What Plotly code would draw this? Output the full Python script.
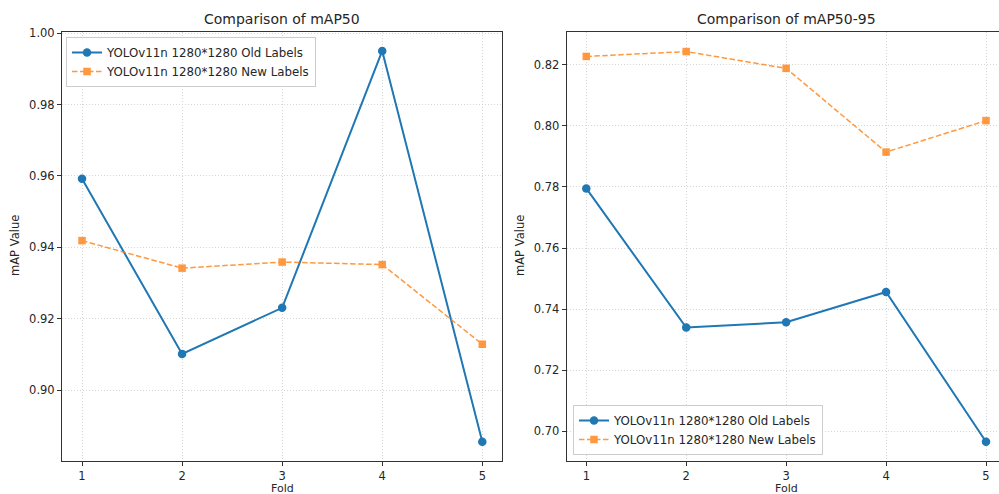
import plotly.graph_objects as go

folds = [1, 2, 3, 4, 5]
map50_old = [0.9592, 0.9102, 0.9231, 0.9950, 0.8856]
map50_new = [0.9419, 0.9342, 0.9359, 0.9352, 0.9129]
map5095_old = [0.7795, 0.7340, 0.7357, 0.7456, 0.6966]
map5095_new = [0.8227, 0.8243, 0.8188, 0.7914, 0.8017]
label_old = "YOLOv11n 1280*1280 Old Labels"
label_new = "YOLOv11n 1280*1280 New Labels"
titles = ["Comparison of mAP50", "Comparison of mAP50-95"]

W, H = 999, 494
BLUE = "#1f77b4"
ORANGE = "#ff7f0e"
FONT = "DejaVu Sans"
TXT = "#262626"

fig = go.Figure()

def add_pair(old, new, xa, ya, leg):
    fig.add_trace(go.Scatter(
        x=folds, y=old, name=label_old, mode="lines+markers",
        line=dict(color=BLUE, width=2),
        marker=dict(symbol="circle", size=8.5, color=BLUE),
        xaxis=xa, yaxis=ya, legend=leg))
    fig.add_trace(go.Scatter(
        x=folds, y=new, name=label_new, mode="lines+markers",
        line=dict(color=ORANGE, width=1.5, dash="5.5px,2.5px"),
        marker=dict(symbol="square", size=7.5, color=ORANGE),
        opacity=0.8,
        xaxis=xa, yaxis=ya, legend=leg))

add_pair(map50_old, map50_new, "x", "y", "legend")
add_pair(map5095_old, map5095_new, "x2", "y2", "legend2")

ytop, ybot = 32.0, 460.7
ydom = [1 - ybot / H, 1 - ytop / H]

axis_common = dict(
    showline=True, linecolor="#333333", linewidth=1,
    ticks="outside", ticklen=4, tickcolor="#333333", tickwidth=1,
    showgrid=True, gridcolor="#d6d6d6", griddash="1px,2px", gridwidth=0.8,
    zeroline=False, tickfont=dict(family=FONT, size=11.5, color=TXT),
)

fig.update_layout(
    width=W, height=H,
    margin=dict(l=0, r=0, t=0, b=0),
    template="none",
    paper_bgcolor="white", plot_bgcolor="white",
    font=dict(family=FONT, color=TXT),
    showlegend=True,
    xaxis=dict(domain=[62 / W, 502.3 / W], range=[0.8, 5.2], tickvals=folds,
               mirror=True, anchor="y", **axis_common),
    yaxis=dict(domain=ydom, range=[0.8803, 1.0003],
               tickvals=[0.90, 0.92, 0.94, 0.96, 0.98, 1.00], tickformat=".2f",
               mirror=True, anchor="x", **axis_common),
    xaxis2=dict(domain=[566.7 / W, 1.0], range=[0.804, 5.13], tickvals=folds,
                mirror=True, anchor="y2", **axis_common),
    yaxis2=dict(domain=ydom, range=[0.6904, 0.8307],
                tickvals=[0.70, 0.72, 0.74, 0.76, 0.78, 0.80, 0.82], tickformat=".2f",
                mirror=False, anchor="x2", **axis_common),
    legend=dict(x=66 / W, y=1 - 37 / H, xanchor="left", yanchor="top",
                bgcolor="rgba(255,255,255,0.85)", bordercolor="#cccccc", borderwidth=1,
                font=dict(family=FONT, size=11.8, color=TXT), tracegroupgap=0,
                itemwidth=30),
    legend2=dict(x=573 / W, y=1 - 455 / H, xanchor="left", yanchor="bottom",
                 bgcolor="rgba(255,255,255,0.85)", bordercolor="#cccccc", borderwidth=1,
                 font=dict(family=FONT, size=11.8, color=TXT), tracegroupgap=0,
                 itemwidth=30),
)

annos = [
    dict(text=titles[0], x=282 / W, y=1 - 19 / H, size=14),
    dict(text=titles[1], x=786 / W, y=1 - 19 / H, size=14),
    dict(text="Fold", x=282 / W, y=1 - 488.5 / H, size=11),
    dict(text="Fold", x=786 / W, y=1 - 488.5 / H, size=11),
]
for a in annos:
    fig.add_annotation(text=a["text"], x=a["x"], y=a["y"], xref="paper", yref="paper",
                       xanchor="center", yanchor="middle", showarrow=False,
                       font=dict(family=FONT, size=a["size"], color=TXT))
for xc in [15, 520]:
    fig.add_annotation(text="mAP Value", x=xc / W, y=1 - 246 / H, xref="paper", yref="paper",
                       xanchor="center", yanchor="middle", showarrow=False, textangle=-90,
                       font=dict(family=FONT, size=11.5, color=TXT))

fig.write_html("out.html", config={"displayModeBar": False},
               post_script="document.body.style.margin='0';document.body.style.padding='0';")
